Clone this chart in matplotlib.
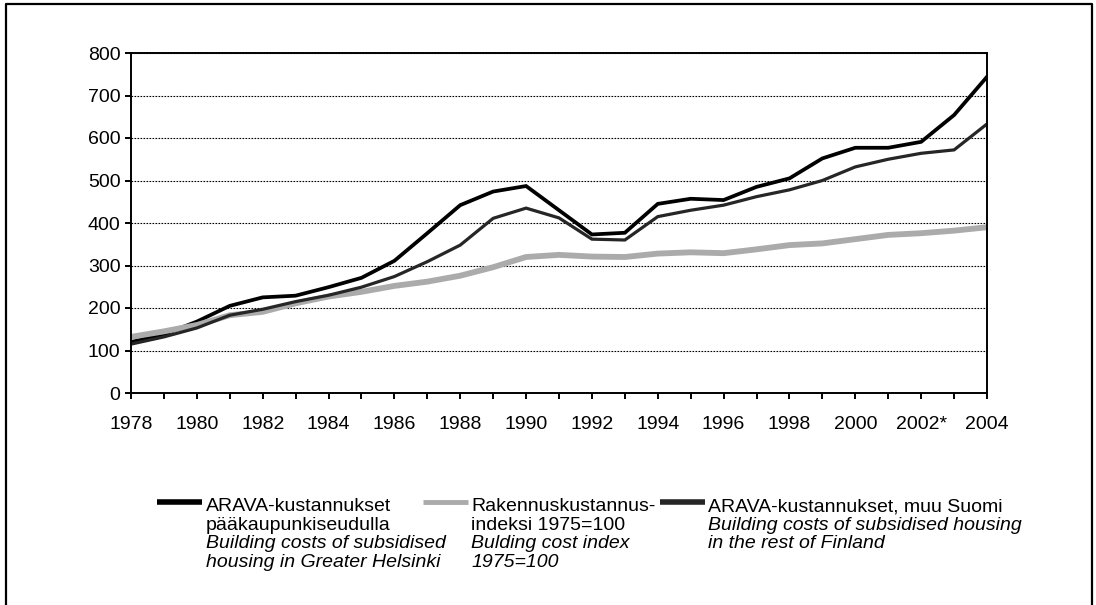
import numpy as np
import matplotlib.pyplot as plt
from matplotlib.lines import Line2D

years = np.arange(1978, 2005)
helsinki = [120, 138, 168, 205, 225, 229, 249, 271, 311, 376, 442, 474, 487, 430, 373,
            377, 445, 457, 454, 485, 505, 552, 577, 577, 591, 654, 744]
cost_index = [132, 145, 160, 183, 191, 211, 227, 238, 252, 262, 276, 296, 320, 325, 321,
              320, 328, 331, 329, 338, 348, 352, 362, 372, 376, 382, 390]
rest_finland = [115, 132, 153, 183, 197, 215, 230, 249, 274, 309, 348, 411, 435, 412, 362,
                360, 415, 430, 442, 462, 478, 500, 532, 550, 564, 572, 633]

xlabels = [str(y) if y % 2 == 0 else "" for y in years]
xlabels[years.tolist().index(2002)] = "2002*"

legend_lines = [
    ["ARAVA-kustannukset", "pääkaupunkiseudulla",
     "Building costs of subsidised", "housing in Greater Helsinki"],
    ["Rakennuskustannus-", "indeksi 1975=100",
     "Bulding cost index", "1975=100"],
    ["ARAVA-kustannukset, muu Suomi",
     "Building costs of subsidised housing", "in the rest of Finland"],
]
italic_from = [2, 2, 1]

plt.rcParams['font.family'] = ['Liberation Sans Narrow', 'Liberation Sans', 'DejaVu Sans']

W, H = 1096, 605
fig = plt.figure(figsize=(W / 100, H / 100), dpi=100)
ax = fig.add_axes([131 / W, 1 - 393 / H, (987 - 131) / W, (393 - 53) / H])

styles = [
    dict(color='black', lw=2.7),
    dict(color='#ababab', lw=4.2),
    dict(color='#262626', lw=2.3),
]
series = [helsinki, cost_index, rest_finland]
for vals, st in zip(series, styles):
    ax.plot(years, vals, solid_joinstyle='miter', **st)

ax.set_xlim(1978, 2004)
ax.set_ylim(0, 800)
ax.set_yticks(range(0, 801, 100))
ax.set_xticks(years)
ax.set_xticklabels(xlabels)
ax.yaxis.grid(True, linestyle=(0, (1.5, 1.2)), color='black', lw=0.8)
ax.set_axisbelow(True)
for s in ax.spines.values():
    s.set_linewidth(1.4)
ax.tick_params(axis='both', labelsize=14, length=4.5, width=1.4, direction='out')
ax.tick_params(axis='x', pad=12)
ax.tick_params(axis='y', pad=3)


def fx(px):
    return px / W


def fy(py):
    return 1 - py / H


# legend drawn by hand
handle_x = [(157, 202), (423, 468), (660, 705)]
text_x = [206, 471, 708]
for i in range(3):
    x0, x1 = handle_x[i]
    st = styles[i]
    fig.add_artist(Line2D([fx(x0), fx(x1)], [fy(502), fy(502)],
                          color=st['color'], lw=4 if i != 1 else 3.5,
                          solid_capstyle='butt'))
    for j, line in enumerate(legend_lines[i]):
        fig.text(fx(text_x[i]), fy(511 + j * 18.6), line, fontsize=14,
                 style='italic' if j >= italic_from[i] else 'normal',
                 va='baseline', ha='left')

# outer frame (left, top, right)
fig.add_artist(Line2D([fx(6), fx(6), fx(1092), fx(1092)],
                      [0, fy(4), fy(4), 0], color='black', lw=1.6))

fig.savefig('out.png', dpi=100)
